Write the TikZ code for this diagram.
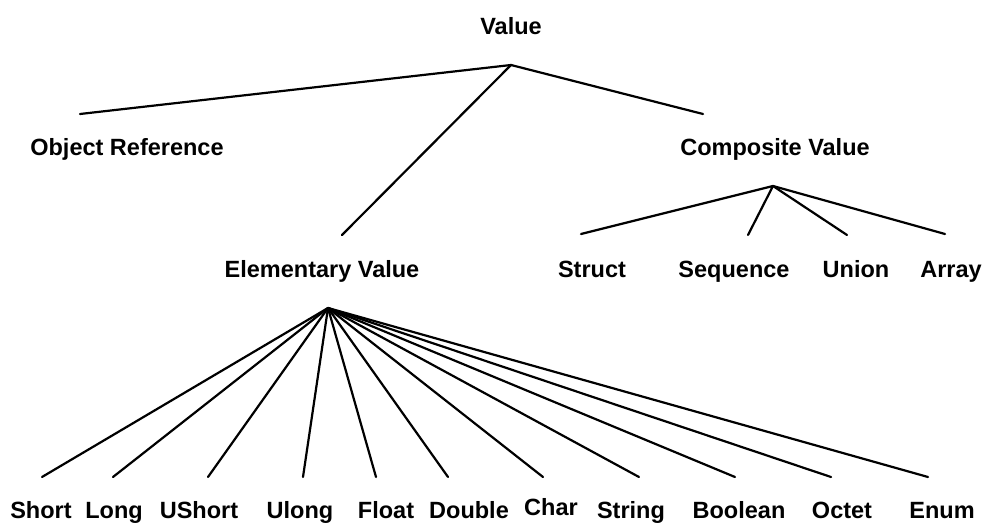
\documentclass[tikz,border=0pt]{standalone}
\usepackage{fontspec}
\setmainfont{Liberation Sans}
\begin{document}
\begin{tikzpicture}[x=1pt,y=-1pt,
  lbl/.style={anchor=base,inner sep=0pt,font=\fontsize{23.5}{28}\selectfont\bfseries},
  edge/.style={line width=2.2pt,line cap=round,line join=round}]
\useasboundingbox (0,0) rectangle (985,524);

% labels
\node[lbl] (value) at (511,35) {Value};
\node[lbl] (objref) at (127,155) {Object Reference};
\node[lbl] (compval) at (775,155) {Composite Value};
\node[lbl] (elemval) at (322,277) {Elementary Value};
\node[lbl] (struct) at (592,277) {Struct};
\node[lbl] (sequence) at (734,277) {Sequence};
\node[lbl] (union) at (856,277) {Union};
\node[lbl] (array) at (951,277) {Array};
\node[lbl] (short) at (41,518) {Short};
\node[lbl] (long) at (114,518) {Long};
\node[lbl] (ushort) at (199,518) {UShort};
\node[lbl] (ulong) at (300,518) {Ulong};
\node[lbl] (float) at (386,518) {Float};
\node[lbl] (double) at (469,518) {Double};
\node[lbl] (char) at (551,515) {Char};
\node[lbl] (string) at (631,518) {String};
\node[lbl] (boolean) at (739,518) {Boolean};
\node[lbl] (octet) at (842,518) {Octet};
\node[lbl] (enum) at (942,518) {Enum};

% branching points below the parents
\coordinate (valueJoin) at (511,65);
\coordinate (compJoin) at (773,186);
\coordinate (elemJoin) at (328,308);

% line ends above the children
\coordinate (objrefTip) at (80,114);
\coordinate (compvalTip) at (703,114);
\coordinate (elemvalTip) at (342,235);
\coordinate (structTip) at (581,234);
\coordinate (sequenceTip) at (748,235);
\coordinate (unionTip) at (847,235);
\coordinate (arrayTip) at (945,234);
\coordinate (shortTip) at (42,477);
\coordinate (longTip) at (113,477);
\coordinate (ushortTip) at (208,477);
\coordinate (ulongTip) at (303,477);
\coordinate (floatTip) at (376,477);
\coordinate (doubleTip) at (448,477);
\coordinate (charTip) at (543,477);
\coordinate (stringTip) at (639,477);
\coordinate (booleanTip) at (735,477);
\coordinate (octetTip) at (831,477);
\coordinate (enumTip) at (928,477);

% connectors
\foreach \c in {objref,compval,elemval}
  \draw[edge] (valueJoin) -- (\c Tip);
\foreach \c in {struct,sequence,union,array}
  \draw[edge] (compJoin) -- (\c Tip);
\foreach \c in {short,long,ushort,ulong,float,double,char,string,boolean,octet,enum}
  \draw[edge] (elemJoin) -- (\c Tip);
\end{tikzpicture}
\end{document}
